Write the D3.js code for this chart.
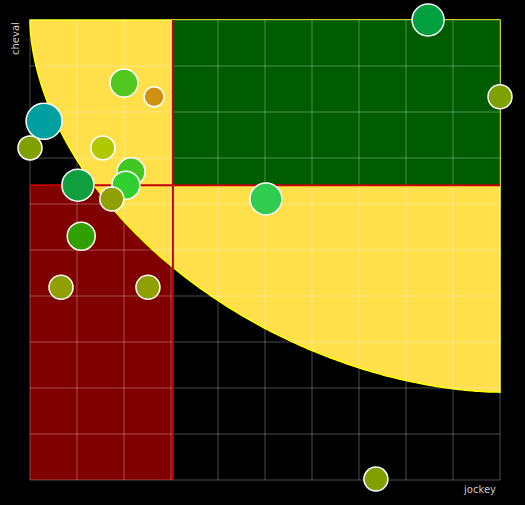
<!DOCTYPE html><html><head><script src="https://cdn.jsdelivr.net/npm/d3@7"></script>
<style>body{margin:0;background:#000}</style></head><body><svg id="c" width="525" height="505"></svg>
<script>
const xs=[84.7,100,20,26.4,3,0,15.5,21.5,10.2,20.4,17.4,50.2,10.9,6.6,25.1,73.6];
const ys=[100,83.3,86.3,83.3,78,72.2,72.2,67,64.1,64.1,61.1,61.1,53,41.9,41.9,0.2];
const rs=[16,12,14,10,18,12,12,14,16,14,12,16,14,12,12,12];
const cols=["#00a040","#80a000","#50c820","#d09010","#00a0a0","#80a000","#b0c800","#40c820","#10a040","#30d030","#90a000","#30cc50","#30a000","#90a000","#90a000","#80a000"];
const xSplit=30.4, ySplit=64.1, curveEndY=19.1, curvePow=1.8;
const ticks=d3.range(0,101,10);
const svg=d3.select("#c");
svg.append("rect").attr("width",525).attr("height",505).attr("fill","#000");
const x=d3.scaleLinear([0,100],[30,500]), y=d3.scaleLinear([0,100],[480,20]);
svg.append("rect").attr("x",x(0)).attr("y",y(ySplit)).attr("width",x(xSplit)-x(0)).attr("height",y(0)-y(ySplit)).attr("fill","#800000");
const pts=d3.range(0,181).map(a=>{const t=a*Math.PI/360;const c=Math.pow(Math.cos(t),2/curvePow),s=Math.pow(Math.sin(t),2/curvePow);return [x(100-100*c),y(100-(100-curveEndY)*s)];});
svg.append("path").attr("d","M"+x(100)+","+y(100)+"L"+pts.map(p=>p.join(",")).join("L")+"Z").attr("fill","#ffe04a").attr("stroke","#ffff00").attr("stroke-width",1.5);
svg.append("rect").attr("x",x(xSplit)).attr("y",y(100)).attr("width",x(100)-x(xSplit)).attr("height",y(ySplit)-y(100)).attr("fill","#005c00");
svg.selectAll(".gx").data(ticks).join("line").attr("x1",d=>x(d)).attr("x2",d=>x(d)).attr("y1",y(0)).attr("y2",y(100)).attr("stroke","rgba(255,255,255,0.3)");
svg.selectAll(".gy").data(ticks).join("line").attr("y1",d=>y(d)).attr("y2",d=>y(d)).attr("x1",x(0)).attr("x2",x(100)).attr("stroke","rgba(255,255,255,0.3)");
svg.append("line").attr("x1",x(xSplit)).attr("x2",x(xSplit)).attr("y1",y(0)).attr("y2",y(100)).attr("stroke","#c00000").attr("stroke-width",2);
svg.append("line").attr("y1",y(ySplit)).attr("y2",y(ySplit)).attr("x1",x(0)).attr("x2",x(100)).attr("stroke","#c00000").attr("stroke-width",2);
svg.selectAll("circle").data(xs).join("circle").attr("cx",d=>x(d)).attr("cy",(d,i)=>y(ys[i])).attr("r",(d,i)=>rs[i]).attr("fill",(d,i)=>cols[i]).attr("stroke","#fff").attr("stroke-width",1.5);
svg.append("text").attr("transform","translate(19,55) rotate(-90)").attr("fill","#ccc").attr("font-family","DejaVu Sans").attr("font-size",10).text("cheval");
svg.append("text").attr("x",496).attr("y",493).attr("text-anchor","end").attr("fill","#ccc").attr("font-family","DejaVu Sans").attr("font-size",10).text("jockey");
</script></body></html>
